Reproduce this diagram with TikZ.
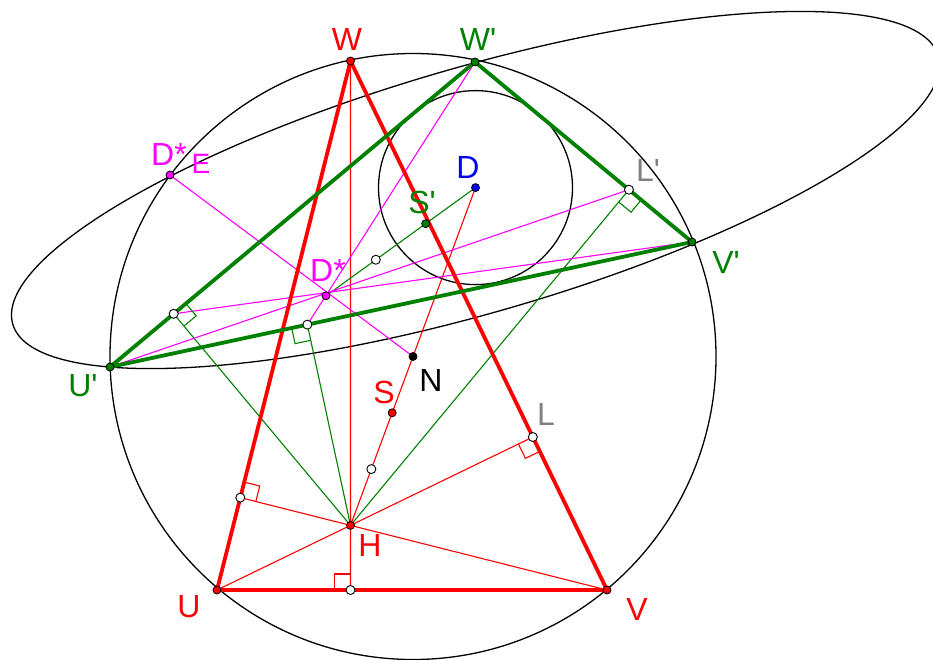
\documentclass[tikz,border=0pt]{standalone}
\usepackage{fontspec}
\setmainfont{Liberation Sans}
\usetikzlibrary{calc}
\definecolor{gr}{RGB}{0,128,0}
\definecolor{mg}{RGB}{255,0,255}
\definecolor{gy}{RGB}{128,128,128}
\newcommand\ramark[4]{%
  \path ($(#1)!16pt!(#2)$) coordinate (ra) ($(#1)!16pt!(#3)$) coordinate (rb);
  \draw[#4, line width=1.1pt] (ra) -- ($(ra)+(rb)-(#1)$) -- (rb);}
\begin{document}
\begin{tikzpicture}[x=1pt,y=-1pt,
  thinl/.style={line width=1.1pt},
  thickl/.style={line width=3.8pt, line join=round, line cap=round},
  circl/.style={line width=1.3pt, black},
  dotm/.style={circle, fill=#1, draw=black, line width=0.8pt, inner sep=0pt, minimum size=8pt},
  opm/.style={circle, fill=white, draw=black, line width=0.9pt, inner sep=0pt, minimum size=9pt},
  lab/.style={font=\fontsize{32}{32}\selectfont, inner sep=0pt, anchor=center}]
\useasboundingbox (0,0) rectangle (933,659);
\clip (0,0) rectangle (933,659);
% points
\coordinate (U) at (217,590);
\coordinate (V) at (607,590);
\coordinate (W) at (350.5,61);
\coordinate (H) at (350.5,525.4);
\coordinate (N) at (413,356.5);
\coordinate (D) at ($(H)!2!(N)$);
\coordinate (S) at ($(H)!2/3!(N)$);
\coordinate (M1) at ($(H)!1/3!(N)$);
\coordinate (Up) at (110,367);
\coordinate (Vp) at (692,242);
\coordinate (Wp) at (475,62);
\coordinate (Mvw) at ($(Vp)!.5!(Wp)$);
\coordinate (Sp) at ($(Up)!2/3!(Mvw)$);
\coordinate (Dn) at ($(D)!3!(Sp)$);
\coordinate (M2) at ($(Sp)!.5!(Dn)$);
\coordinate (De) at (170,175);
\coordinate (F1) at ($(Up)!(H)!(Wp)$);
\coordinate (F2) at ($(Up)!(H)!(Vp)$);
\coordinate (Lp) at ($(Wp)!(H)!(Vp)$);
\coordinate (L) at ($(V)!(H)!(W)$);
\coordinate (Fuw) at ($(U)!(H)!(W)$);
\coordinate (Fuv) at ($(U)!(H)!(V)$);
% circles and ellipse
\draw[circl] (N) circle[radius=303pt];
\draw[circl] (D) circle[radius=97pt];
\draw[circl, rotate around={16.16:(475.5,190)}] (475.5,190) ellipse[x radius=481.8pt, y radius=122.8pt];
% thin lines
\draw[thinl, red] (U) -- (L) (V) -- (Fuw) (W) -- (Fuv) (H) -- (D);
\draw[thinl, gr] (H) -- (F1) (H) -- (F2) (H) -- (Lp) (D) -- (Dn);
\draw[thinl, mg] (Up) -- (Lp) (Vp) -- (F1) (Wp) -- (F2) (De) -- (N);
% right angles
\ramark{Fuv}{U}{H}{red}
\ramark{Fuw}{W}{H}{red}
\ramark{L}{V}{H}{red}
\ramark{F1}{Wp}{H}{gr}
\ramark{F2}{Up}{H}{gr}
\ramark{Lp}{Vp}{H}{gr}
% thick triangles
\draw[thickl, red] (U) -- (V) -- (W) -- cycle;
\draw[thickl, gr] (Up) -- (Vp) -- (Wp) -- cycle;
% markers
\node[opm] (oF1) at (F1) {};
\node[opm] (oF2) at (F2) {};
\node[opm] (oLp) at (Lp) {};
\node[opm] (oL) at (L) {};
\node[opm] (oFuw) at (Fuw) {};
\node[opm] (oFuv) at (Fuv) {};
\node[opm] (oM1) at (M1) {};
\node[opm] (oM2) at (M2) {};
\node[dotm=red] (pU) at (U) {};
\node[dotm=red] (pV) at (V) {};
\node[dotm=red] (pW) at (W) {};
\node[dotm=red] (pH) at (H) {};
\node[dotm=red] (pS) at (S) {};
\node[dotm=black] (pN) at (N) {};
\node[dotm=gr] (pUp) at (Up) {};
\node[dotm=gr] (pVp) at (Vp) {};
\node[dotm=gr] (pWp) at (Wp) {};
\node[dotm=gr] (pSp) at (Sp) {};
\node[dotm=blue] (pD) at (D) {};
\node[dotm=mg] (pDn) at (Dn) {};
\node[dotm=mg] (pDe) at (De) {};
% labels
\node[lab, red] (lW) at (347,39) {W};
\node[lab, gr] (lWp) at (478,39) {W\textquotesingle};
\node[lab, mg] (lDe) at (169,154) {D*};
\node[lab, mg, font=\fontsize{28}{28}\selectfont] (lE) at (201,164) {E};
\node[lab, blue] (lD) at (468,167) {D};
\node[lab, gr] (lSp) at (422,202) {S\textquotesingle};
\node[lab, gy] (lLp) at (648,170) {L\textquotesingle};
\node[lab, gr] (lVp) at (726,262) {V\textquotesingle};
\node[lab, mg] (lDn) at (328,270) {D*};
\node[lab, gr] (lUp) at (83,386) {U\textquotesingle};
\node[lab, black] (lN) at (431,380) {N};
\node[lab, red] (lS) at (384,392) {S};
\node[lab, gy] (lL) at (546,414) {L};
\node[lab, red] (lH) at (370,545) {H};
\node[lab, red] (lU) at (189,607) {U};
\node[lab, red] (lV) at (637,609) {V};
\end{tikzpicture}
\end{document}
